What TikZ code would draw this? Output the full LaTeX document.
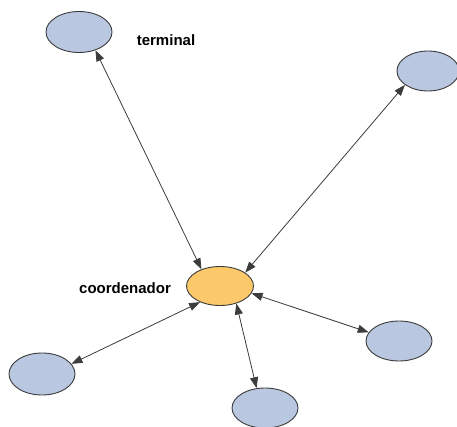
\documentclass[tikz,border=0pt]{standalone}
\usepackage{fontspec}
\setmainfont{Liberation Sans}
\usetikzlibrary{shapes.geometric,arrows.meta}
\definecolor{termfill}{RGB}{185,200,224}
\definecolor{coordfill}{RGB}{252,201,106}
\definecolor{edgegray}{RGB}{60,60,60}
\begin{document}
\begin{tikzpicture}[x=1pt,y=-1pt,
  term/.style={ellipse,draw=edgegray,line width=0.9pt,fill=termfill,minimum width=66pt,minimum height=41pt,inner sep=0pt},
  coord/.style={ellipse,draw=edgegray,line width=0.9pt,fill=coordfill,minimum width=67pt,minimum height=39pt,inner sep=0pt},
  lbl/.style={font=\fontsize{15}{18}\selectfont\bfseries,text=black,inner sep=0pt},
  link/.style={draw=edgegray,line width=0.8pt,{Triangle[length=11pt,width=8pt]}-{Triangle[length=11pt,width=8pt]}}
]
\useasboundingbox[fill=white] (0,0) rectangle (457,427);
\node[coord] (c) at (220,286) {};
\node[term] (tl) at (79,32) {};
\node[term,minimum width=62pt,minimum height=40pt] (tr) at (428,71) {};
\node[term,minimum height=42pt] (bl) at (42,374) {};
\node[term,minimum height=40pt] (bm) at (265,408) {};
\node[term,minimum height=40pt] (br) at (399,341) {};
\node[lbl] (tlab) at (166,40) {terminal};
\node[lbl] (clab) at (125,288) {coordenador};
\draw[link] (tl.-48) -- (c.138);
\draw[link] (tr.-149) -- (c.28);
\draw[link] (bl.19) -- (c.-141);
\draw[link] (bm.113) -- (c.-47);
\draw[link] (br.164) -- (c.-13);
\end{tikzpicture}
\end{document}
